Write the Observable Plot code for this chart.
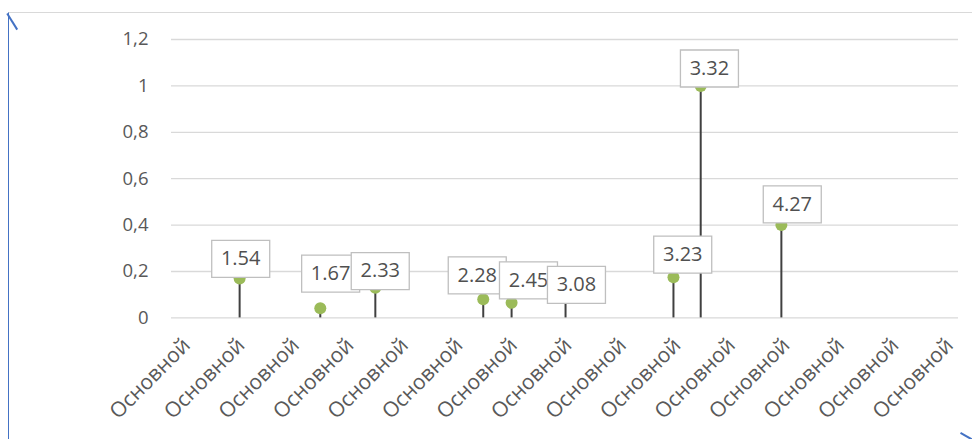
<!DOCTYPE html>
<html><head><meta charset="utf-8">
<script src="https://cdn.jsdelivr.net/npm/d3@7"></script>
<script src="https://cdn.jsdelivr.net/npm/@observablehq/plot@0.6"></script>
<style>
html,body{margin:0;padding:0;background:#fff;}
#wrap{position:relative;width:972px;height:439px;overflow:hidden;background:#fff;}
#frame{position:absolute;left:8px;top:12px;right:-2px;bottom:-2px;border-top:1px solid #d9d9d9;border-left:1.5px solid #4472c4;}
.mark1{position:absolute;left:8px;top:13px;width:19px;height:1.5px;background:#4472c4;transform-origin:0 0;transform:rotate(58deg);}
.mark2{position:absolute;left:961px;top:432px;width:14px;height:1.5px;background:#4472c4;transform-origin:0 0;transform:rotate(30deg);}
#chart{position:absolute;left:0;top:0;}
</style>
</head><body>
<div id="wrap"><div id="frame"></div><div class="mark1"></div><div class="mark2"></div><div id="chart"></div></div>
<script>
const categoryLabel = "Основной";
const xTicks = [0,1,2,3,4,5,6,7,8,9,10,11,12,13,14];
const xDomain = [-0.37, 14.07];
const yTicks = [0, 0.2, 0.4, 0.6, 0.8, 1, 1.2];
const yDomain = [0, 1.2];
const pointX = [0.88, 2.36, 3.37, 5.35, 5.87, 6.86, 8.84, 9.34, 10.82];
const pointY = [0.17, 0.042, 0.13, 0.08, 0.065, 0.09, 0.175, 1.0, 0.40];
const labels = ["1.54","1.67","2.33","2.28","2.45","3.08","3.23","3.32","4.27"];
const labelX = [0.90, 2.55, 3.46, 5.24, 6.18, 7.06, 9.01, 9.50, 11.02];
const labelY = [0.254, 0.191, 0.202, 0.183, 0.162, 0.142, 0.273, 1.075, 0.489];

const idx = labels.map((_, i) => i);
const boxSymbol = {draw(ctx) { ctx.rect(-29, -18.5, 58, 37); }};

const labelMarks = idx.flatMap(i => [
  Plot.dot([i], {x: d => labelX[d], y: d => labelY[d], symbol: boxSymbol, r: 1, fill: "#ffffff", stroke: "#bfbfbf", strokeWidth: 1.3}),
  Plot.text([i], {x: d => labelX[d], y: d => labelY[d], text: d => labels[d], fill: "#505050", fontSize: 20})
]);

const chart = Plot.plot({
  width: 972, height: 439,
  marginLeft: 171, marginRight: 14, marginTop: 39, marginBottom: 121.6,
  x: {domain: xDomain},
  y: {domain: yDomain},
  style: {fontFamily: "'Open Sans', sans-serif", fontSize: "18px", color: "#595959", background: "transparent"},
  marks: [
    Plot.gridY(yTicks, {stroke: "#d9d9d9", strokeOpacity: 1, strokeWidth: 1.3}),
    Plot.axisY(yTicks, {tickSize: 0, tickPadding: 23, tickFormat: d => String(d).replace(".", ","), color: "#595959", fontSize: 18.5}),
    Plot.axisX(xTicks, {tickSize: 0, tickRotate: -45, tickPadding: 20, dx: -5, dy: 4, tickFormat: () => categoryLabel, color: "#595959", fontSize: 21}),
    Plot.ruleX(idx, {x: i => pointX[i], y1: 0, y2: i => pointY[i], stroke: "#404040", strokeWidth: 2}),
    Plot.dot(idx, {x: i => pointX[i], y: i => pointY[i], r: 6, fill: "#9bbb59"}),
    ...labelMarks
  ]
});
document.getElementById("chart").appendChild(chart);
</script>
</body></html>
